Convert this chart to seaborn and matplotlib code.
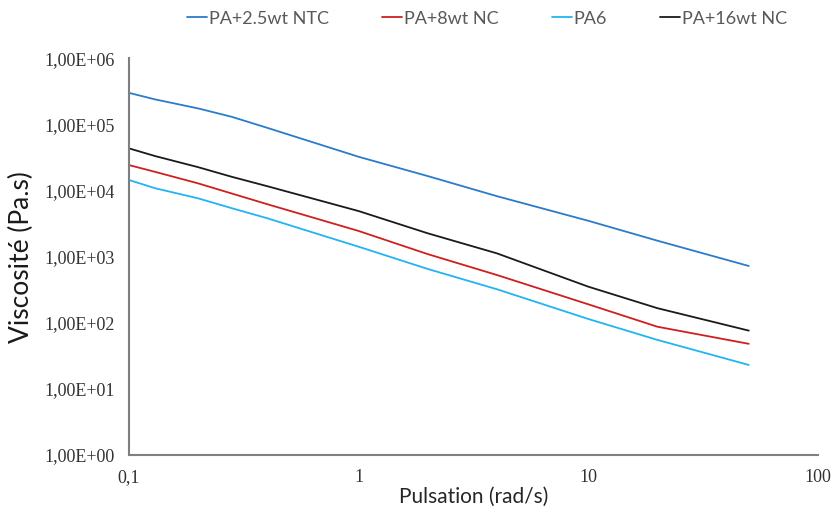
import matplotlib
matplotlib.use("Agg")
from matplotlib import pyplot as plt
import pandas as pd
import seaborn as sns

# values (log-log viscosity curves)
pulsation = [0.1, 0.13, 0.2, 0.28, 0.4, 1, 2, 4, 10, 20, 50]
pa_ntc = [2.99e5, 2.38e5, 1.74e5, 1.30e5, 8.85e4, 3.23e4, 1.65e4, 8.2e3, 3.48e3, 1.74e3, 721]
pa_8nc = [2.42e4, 1.91e4, 1.28e4, 9.0e3, 6.2e3, 2.44e3, 1.09e3, 527, 190, 87, 48]
pa6 = [1.44e4, 1.08e4, 7.6e3, 5.4e3, 3.8e3, 1.41e3, 650, 321, 114, 55, 23]
pa_16nc = [4.33e4, 3.31e4, 2.25e4, 1.61e4, 1.16e4, 4.88e3, 2.25e3, 1.12e3, 351, 166, 76]

series = ["PA+2.5wt NTC", "PA+8wt NC", "PA6", "PA+16wt NC"]
colors = ["#2B7BCB", "#D01F1F", "#22B4F2", "#1A1A1A"]

x_ticks = [0.1, 1, 10, 100]
x_labels = ["0,1", "1", "10", "100"]
y_ticks = [1, 10, 100, 1e3, 1e4, 1e5, 1e6]
y_labels = ["1,00E+00", "1,00E+01", "1,00E+02", "1,00E+03", "1,00E+04", "1,00E+05", "1,00E+06"]

df = pd.DataFrame({
    "Pulsation": pulsation * 4,
    "Viscosite": pa_ntc + pa_8nc + pa6 + pa_16nc,
    "Serie": [s for s in series for _ in pulsation],
})

sns.set_style("white")
plt.rcParams["font.family"] = ["Lato", "DejaVu Sans"]

fig = plt.figure(figsize=(8.34, 5.15), dpi=100)
ax = fig.add_axes([0.1547, 0.1165, 0.826, 0.7705])

sns.lineplot(data=df, x="Pulsation", y="Viscosite", hue="Serie",
             hue_order=series, palette=colors, linewidth=1.3, ax=ax)

ax.set_xscale("log")
ax.set_yscale("log")
ax.set_xlim(0.1, 100)
ax.set_ylim(1, 1e6)
ax.set_xticks(x_ticks)
ax.set_xticklabels(x_labels)
ax.set_yticks(y_ticks)
ax.set_yticklabels(y_labels)
ax.minorticks_off()
ax.tick_params(length=0, pad=10, labelsize=13, colors="#333333")
for lab in ax.get_xticklabels() + ax.get_yticklabels():
    lab.set_family("Liberation Serif")

for side in ["top", "right"]:
    ax.spines[side].set_visible(False)
for side in ["left", "bottom"]:
    ax.spines[side].set_color("#7f7f7f")
    ax.spines[side].set_linewidth(1.5)

ax.set_xlabel("Pulsation (rad/s)", fontsize=15, color="#262626", labelpad=1)
ax.set_ylabel("Viscosité (Pa.s)", fontsize=19, color="#1a1a1a", labelpad=8)

sns.move_legend(ax, "center", bbox_to_anchor=(0.52, 1.1), ncol=4, frameon=False,
                title=None, fontsize=13, handlelength=1.1, handletextpad=0.1,
                columnspacing=2.95)
for t in ax.get_legend().get_texts():
    t.set_color("#595959")

fig.savefig("out.png", dpi=100)
